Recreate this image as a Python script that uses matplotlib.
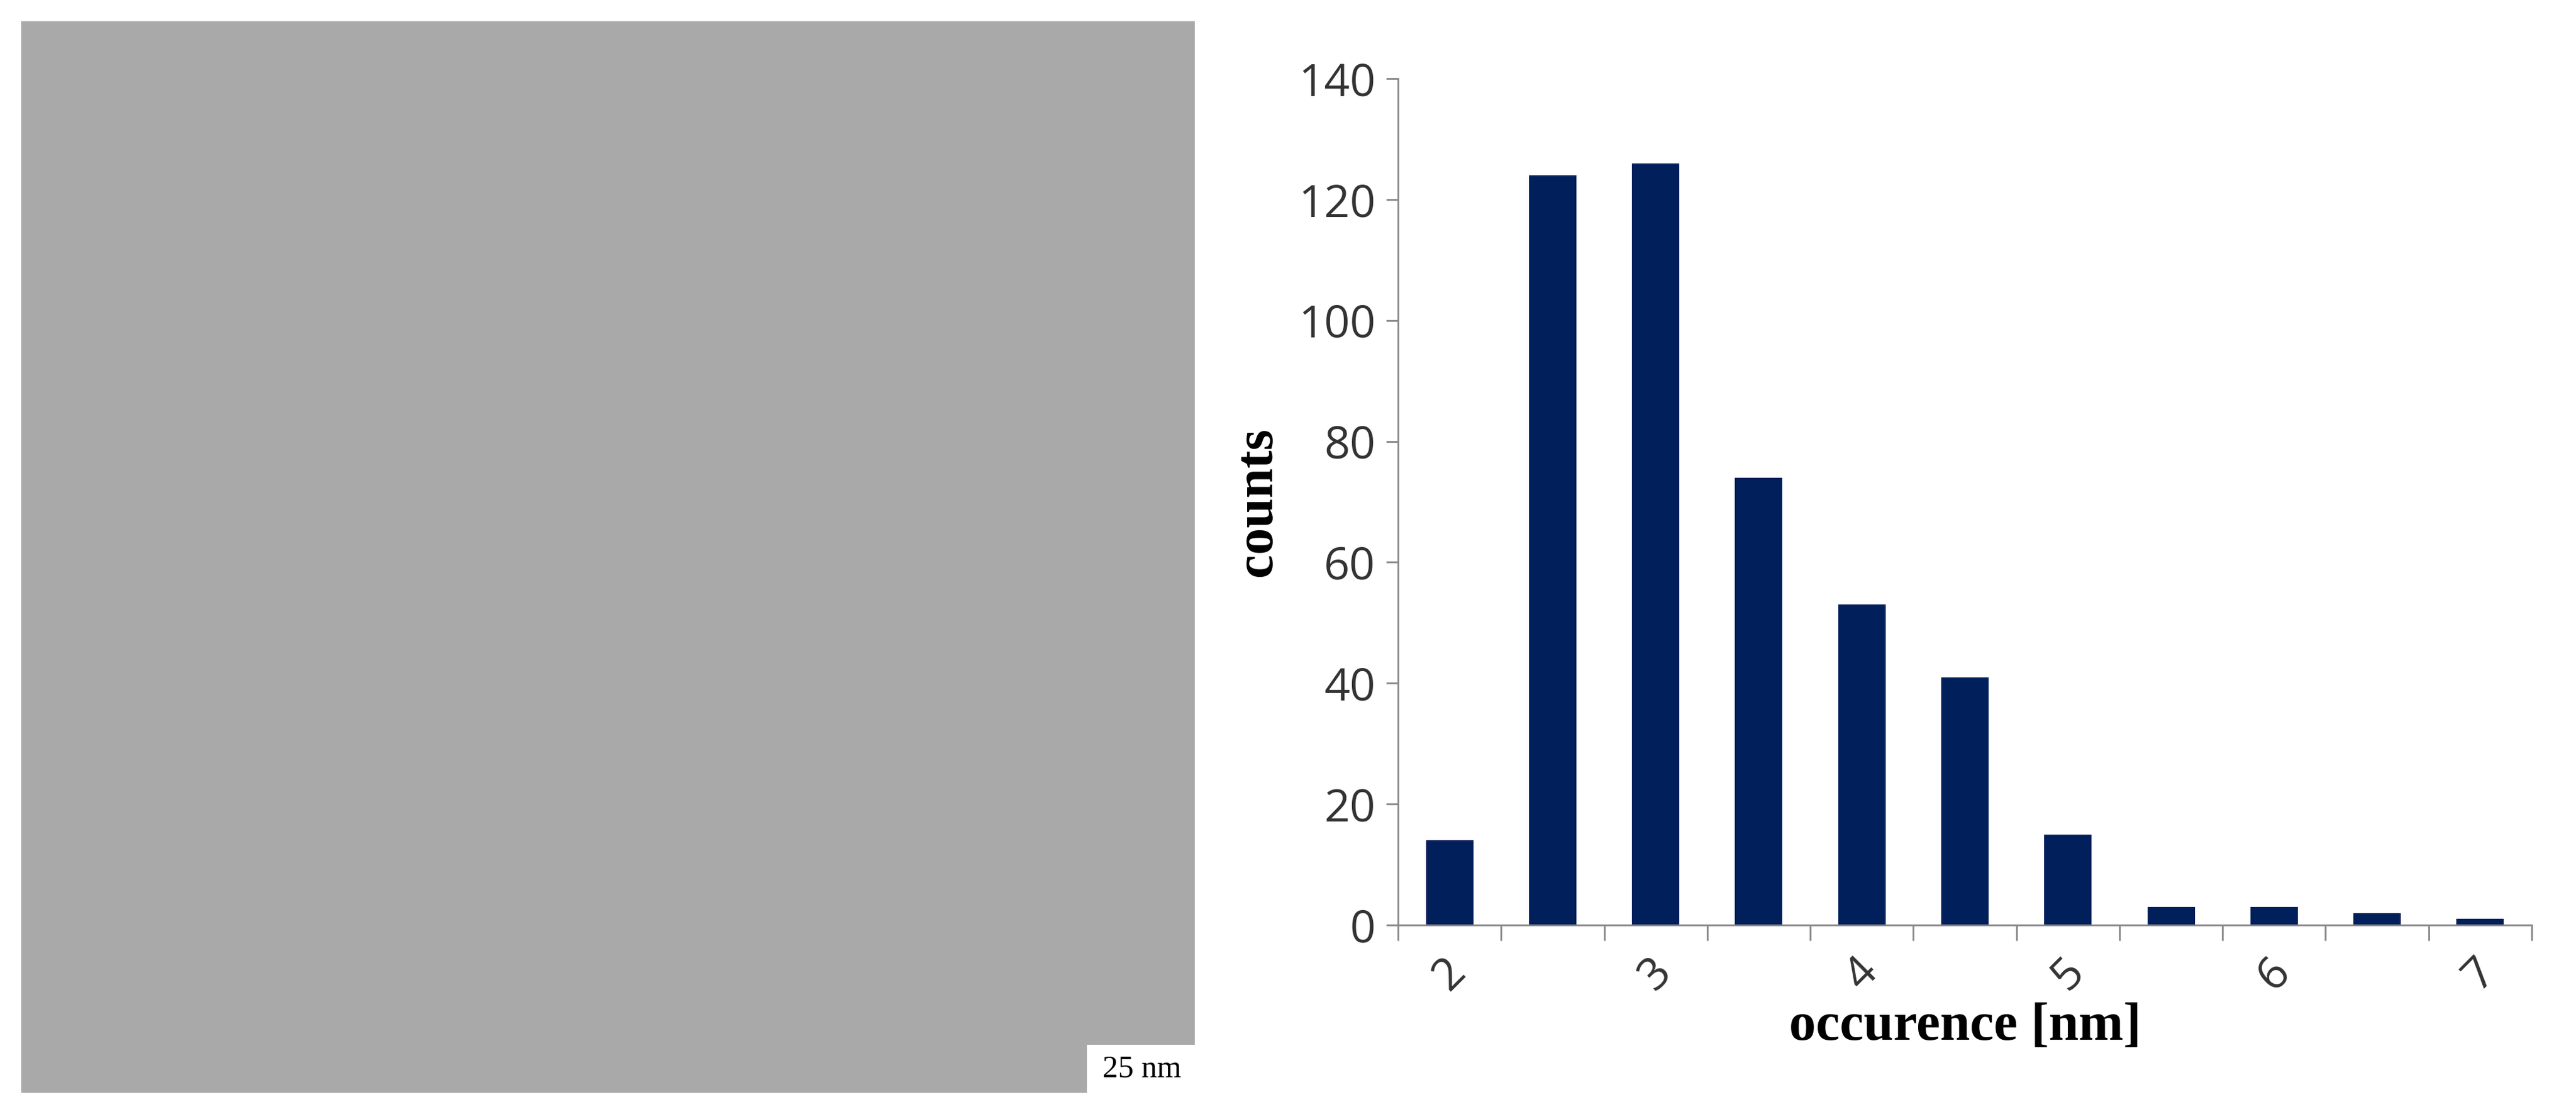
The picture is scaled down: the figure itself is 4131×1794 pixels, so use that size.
import matplotlib
matplotlib.use("Agg")
import matplotlib.pyplot as plt
from matplotlib.patches import Rectangle

categories = ["2", "", "3", "", "4", "", "5", "", "6", "", "7"]
counts = [14, 124, 126, 74, 53, 41, 15, 3, 3, 2, 1]
yticks = [0, 20, 40, 60, 80, 100, 120, 140]

W, H = 4131, 1794
fig = plt.figure(figsize=(W/100, H/100), dpi=100)

# left panel: micrograph placeholder
axi = fig.add_axes([34/W, 1 - 1752/H, (1916-34)/W, (1752-34)/H])
axi.set_xlim(0, 1); axi.set_ylim(0, 1)
axi.set_facecolor("#a9a9a9")
axi.set_xticks([]); axi.set_yticks([])
for s in axi.spines.values():
    s.set_visible(False)
axi.add_patch(Rectangle((0.908, 0.0), 0.092, 0.045, facecolor="white", edgecolor="none", transform=axi.transAxes))
axi.text(0.955, 0.022, "25 nm", transform=axi.transAxes, ha="center", va="center",
         fontsize=36, family="Liberation Serif", color="black")

# right panel: histogram
ax = fig.add_axes([2242/W, 1 - 1483/H, (4060-2242)/W, (1483-126)/H])
x = list(range(len(counts)))
ax.bar(x, counts, width=0.46, color="#001f5b")
ax.set_xlim(-0.5, len(counts) - 0.5)
ax.set_ylim(0, 140)
ax.set_yticks(yticks)
ax.set_yticklabels([str(v) for v in yticks], fontsize=52, color="#333333", family="Open Sans")
ax.set_xticks([i - 0.5 for i in range(len(counts) + 1)], minor=False)
ax.set_xticklabels([])
ax.set_xticks(x, minor=True)
ax.set_xticklabels(categories, minor=True, rotation=45, fontsize=52, color="#333333",
                   family="Open Sans", ha="center", va="top")
ax.tick_params(axis="x", which="major", length=18, width=2, color="#888888", direction="out")
ax.tick_params(axis="x", which="minor", length=0, pad=28)
ax.tick_params(axis="y", length=14, width=2, color="#888888", pad=12)
for s in ["top", "right"]:
    ax.spines[s].set_visible(False)
for s in ["left", "bottom"]:
    ax.spines[s].set_color("#888888")
    ax.spines[s].set_linewidth(2)
ax.set_xlabel("occurence [nm]", fontsize=62, fontweight="bold", family="Liberation Serif", labelpad=4)
ax.set_ylabel("counts", fontsize=62, fontweight="bold", family="Liberation Serif", labelpad=18)

fig.savefig("out.png", dpi=100, facecolor="white")
